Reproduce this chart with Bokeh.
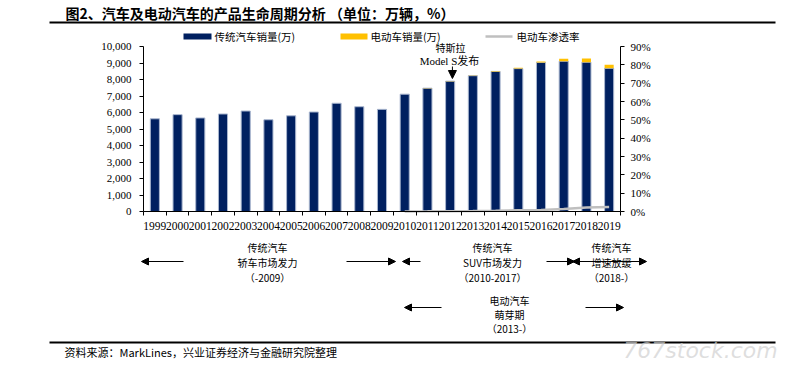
from bokeh.plotting import figure
from bokeh.models import (ColumnDataSource, Range1d, LinearAxis, FixedTicker,
                          NumeralTickFormatter, PrintfTickFormatter, Label, Arrow, NormalHead)
from bokeh.embed import file_html
from bokeh.resources import INLINE

# ---------------- data ----------------
years = list(range(1999, 2020))
trad_sales = [5620, 5870, 5670, 5910, 6090, 5560, 5800, 6030, 6560, 6350, 6190,
              7110, 7475, 7900, 8230, 8490, 8660, 9030, 9110, 9050, 8680]
ev_sales = [0, 0, 0, 0, 0, 0, 0, 0, 0, 0, 0,
            0, 5, 12, 20, 32, 50, 65, 150, 220, 210]
pen_years = list(range(2010, 2020))
pen_rate = [0.02, 0.07, 0.15, 0.24, 0.37, 0.62, 0.82, 1.3, 2.2, 2.4]
left_ticks = [0, 1000, 2000, 3000, 4000, 5000, 6000, 7000, 8000, 9000, 10000]
right_ticks = [0, 10, 20, 30, 40, 50, 60, 70, 80, 90]

NAVY = "#002060"
YELLOW = "#FFC000"
GRAY = "#BFBFBF"
CJK = "Noto Sans CJK SC"
SERIF = "Liberation Serif"

# page geometry (pixels) -> used only to place the plot frame and annotations
W, H = 786, 365
AX_L, AX_R = 143, 620      # x of 1998.5 and 2019.5
Y0, Y10K = 211, 46         # y of 0 and 10,000
xpp = 21 / (AX_R - AX_L)
upp = 10000 / (Y0 - Y10K)
pupp = 90 / (Y0 - Y10K)

total = [t + e for t, e in zip(trad_sales, ev_sales)]
src = ColumnDataSource(dict(year=years, trad=trad_sales, total=total))

p = figure(width=W, height=H,
           x_range=Range1d(1998.5 - AX_L * xpp, 1998.5 + (W - AX_L) * xpp),
           y_range=Range1d(-(H - Y0) * upp, Y0 * upp),
           x_axis_type=None, y_axis_type=None,
           output_backend="svg", toolbar_location=None,
           min_border=0, min_border_left=0, min_border_right=0,
           min_border_top=0, min_border_bottom=0)
p.extra_y_ranges = {"pct": Range1d(-(H - Y0) * pupp, Y0 * pupp)}
p.outline_line_color = None

p.vbar(x="year", top="trad", width=0.4, source=src, fill_color=NAVY,
       line_color="#A9B6CF", line_width=1)
p.vbar(x="year", bottom="trad", top="total", width=0.4, source=src, fill_color=YELLOW,
       line_color=None)
p.line(pen_years, pen_rate, y_range_name="pct", line_color=GRAY, line_width=2.5)


def style_axis(a, standoff):
    a.axis_line_color = "black"
    a.major_tick_line_color = "black"
    a.minor_tick_line_color = "black"
    a.major_label_standoff = standoff
    a.major_label_text_font = SERIF
    a.major_label_text_font_size = "11px"
    a.major_label_text_color = "black"


xa = LinearAxis(fixed_location=0, bounds=(1998.5, 2019.5),
                ticker=FixedTicker(ticks=years, minor_ticks=[1998.5 + i for i in range(22)]),
                formatter=PrintfTickFormatter(format="%d"))
style_axis(xa, 6)
xa.major_tick_out = 0
xa.major_tick_in = 0
xa.minor_tick_out = 4
xa.minor_tick_in = 0
xa.major_label_text_font_size = "11.5px"
p.add_layout(xa, "below")

ya = LinearAxis(fixed_location=1998.5, bounds=(0, 10000),
                ticker=FixedTicker(ticks=left_ticks),
                formatter=NumeralTickFormatter(format="0,0"))
style_axis(ya, 8)
ya.major_tick_out = 4
ya.major_tick_in = 0
ya.minor_tick_out = 0
ya.minor_tick_in = 0
p.add_layout(ya, "left")

ra = LinearAxis(y_range_name="pct", fixed_location=2019.5, bounds=(0, 90),
                ticker=FixedTicker(ticks=right_ticks),
                formatter=PrintfTickFormatter(format="%d%%"))
style_axis(ra, 6)
ra.major_tick_out = 4
ra.major_tick_in = 0
ra.minor_tick_out = 0
ra.minor_tick_in = 0
p.add_layout(ra, "right")


def X(px):
    return 1998.5 + (px - AX_L) * xpp


def Y(py):
    return (Y0 - py) * upp


def lab(px, py, text, size="10px", font=CJK, align="center", style="normal", color="black", alpha=1.0):
    p.add_layout(Label(x=X(px), y=Y(py), text=text, text_align=align, text_baseline="middle",
                       text_font=font, text_font_size=size, text_font_style=style,
                       text_color=color, text_alpha=alpha))


def hline(x0, x1, py, width=1.0, color="black", start=False, end=False, hs=7):
    p.add_layout(Arrow(x_start=X(x0), x_end=X(x1), y_start=Y(py), y_end=Y(py),
                       line_color=color, line_width=width,
                       start=NormalHead(size=hs, fill_color="black", line_color="black") if start else None,
                       end=NormalHead(size=hs, fill_color="black", line_color="black") if end else None))


# title and rules
lab(65, 12, "图2、汽车及电动汽车的产品生命周期分析 （单位：万辆，%）", size="14px", align="left", style="bold")
hline(49, 775, 22, width=2)
hline(49, 775, 342, width=2)
lab(64, 351, "资料来源：MarkLines，兴业证券经济与金融研究院整理", size="11px", align="left")

# legend
hline(183, 211, 36, width=6, color=NAVY)
lab(214, 36, "传统汽车销量(万)", size="10.5px", align="left")
hline(340, 367, 36, width=6, color=YELLOW)
lab(370, 36, "电动车销量(万)", size="10.5px", align="left")
hline(485, 512, 36, width=2.5, color=GRAY)
lab(516, 36, "电动车渗透率", size="10.5px", align="left")

# Tesla annotation
lab(450, 47, "特斯拉")
lab(449, 60, "Model S发布", size="11px", font=SERIF + ", " + CJK)
p.add_layout(Arrow(x_start=2012.1, x_end=2012.1, y_start=Y(66), y_end=Y(78),
                   line_color="black", line_width=1,
                   end=NormalHead(size=8, fill_color="black", line_color="black")))

# period annotations
for cx, lines in [(267, ["传统汽车", "轿车市场发力", "（-2009）"]),
                  (492, ["传统汽车", "SUV市场发力", "（2010-2017）"]),
                  (611, ["传统汽车", "增速放缓", "（2018-）"])]:
    for i, t in enumerate(lines):
        lab(cx, 247 + 15 * i, t)
for i, t in enumerate(["电动汽车", "萌芽期", "（2013-）"]):
    lab(509, 300 + 14 * i, t)

hline(183, 141, 261, end=True)
hline(346, 395, 261, end=True)
hline(420, 402, 261, end=True)
hline(546, 574, 261, end=True)
hline(572, 646, 261, start=True, end=True)
hline(441, 404, 307, end=True)
hline(585, 623, 307, end=True)

# watermark
lab(700, 350, "767stock.com", size="22px", font="DejaVu Sans", style="italic", color="#D0D0D0", alpha=0.7)

open("out.html", "w").write(file_html(p, INLINE))
